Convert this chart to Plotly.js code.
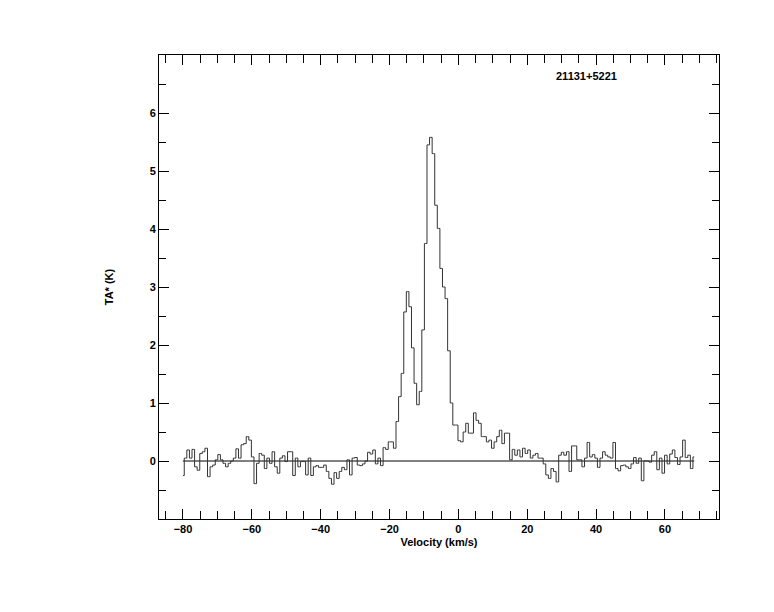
<!DOCTYPE html>
<html>
<head>
<meta charset="utf-8">
<script src="https://cdn.plot.ly/plotly-3.0.1.min.js"></script>
<style>html,body{margin:0;padding:0;background:#fff;}#chart{width:774px;height:612px;}</style>
</head>
<body>
<div id="chart"></div>
<script>
// Channel velocities (km/s)
const velocity = [
 -80, -79.25, -78.5, -77.75, -77, -76.25, -75.5, -74.75, -74, -73.25,
 -72.5, -71.75, -71, -70.25, -69.5, -68.75, -68, -67.25, -66.5, -65.75,
 -65, -64.25, -63.5, -62.75, -62, -61.25, -60.5, -59.75, -59, -58.25,
 -57.5, -56.75, -56, -55.25, -54.5, -53.75, -53, -52.25, -51.5, -50.75,
 -50, -49.25, -48.5, -47.75, -47, -46.25, -45.5, -44.75, -44, -43.25,
 -42.5, -41.75, -41, -40.25, -39.5, -38.75, -38, -37.25, -36.5, -35.75,
 -35, -34.25, -33.5, -32.75, -32, -31.25, -30.5, -29.75, -29, -28.25,
 -27.5, -26.75, -26, -25.25, -24.5, -23.75, -23, -22.25, -21.5, -20.75,
 -20, -19.25, -18.5, -17.75, -17, -16.25, -15.5, -14.75, -14, -13.25,
 -12.5, -11.75, -11, -10.25, -9.5, -8.75, -8, -7.25, -6.5, -5.75,
 -5, -4.25, -3.5, -2.75, -2, -1.25, -0.5, 0.25, 1, 1.75,
 2.5, 3.25, 4, 4.75, 5.5, 6.25, 7, 7.75, 8.5, 9.25,
 10, 10.75, 11.5, 12.25, 13, 13.75, 14.5, 15.25, 16, 16.75,
 17.5, 18.25, 19, 19.75, 20.5, 21.25, 22, 22.75, 23.5, 24.25,
 25, 25.75, 26.5, 27.25, 28, 28.75, 29.5, 30.25, 31, 31.75,
 32.5, 33.25, 34, 34.75, 35.5, 36.25, 37, 37.75, 38.5, 39.25,
 40, 40.75, 41.5, 42.25, 43, 43.75, 44.5, 45.25, 46, 46.75,
 47.5, 48.25, 49, 49.75, 50.5, 51.25, 52, 52.75, 53.5, 54.25,
 55, 55.75, 56.5, 57.25, 58, 58.75, 59.5, 60.25, 61, 61.75,
 62.5, 63.25, 64, 64.75, 65.5, 66.25, 67, 67.75, 68.5
];
// Antenna temperature TA* (K)
const ta = [
 -0.25, 0.05, 0.19, 0.05, 0.20, -0.10, -0.16, 0.13, 0.16, 0.22,
 -0.27, -0.10, -0.07, 0.02, 0.11, 0.02, -0.04, -0.10, -0.04, 0.00,
 0.05, 0.21, 0.05, 0.28, 0.30, 0.42, 0.36, 0.07, -0.39, -0.04,
 0.13, 0.10, -0.13, 0.05, -0.04, 0.16, -0.10, -0.21, 0.05, 0.09,
 -0.01, 0.16, 0.16, -0.25, 0.05, -0.10, -0.01, -0.01, -0.24, 0.05,
 -0.25, -0.10, -0.08, -0.11, -0.11, -0.07, -0.18, -0.30, -0.40, -0.20,
 -0.30, -0.18, -0.11, -0.15, 0.02, -0.24, 0.05, 0.06, -0.07, -0.08,
 -0.05, 0.00, 0.15, 0.12, 0.19, -0.05, 0.05, -0.08, 0.23, 0.20,
 0.33, 0.33, 0.22, 0.68, 1.11, 1.51, 2.57, 2.92, 2.66, 1.95,
 1.34, 0.97, 1.20, 2.26, 3.75, 5.45, 5.58, 5.30, 4.41, 4.01,
 3.32, 3.00, 2.80, 1.90, 1.00, 0.62, 0.62, 0.35, 0.33, 0.50,
 0.65, 0.48, 0.48, 0.83, 0.70, 0.65, 0.42, 0.42, 0.33, 0.36,
 0.22, 0.33, 0.42, 0.53, 0.30, 0.48, 0.48, 0.02, 0.20, 0.10,
 0.19, 0.07, 0.22, 0.13, 0.19, 0.05, 0.10, 0.13, 0.05, 0.05,
 -0.05, -0.24, -0.30, -0.13, -0.18, -0.36, 0.10, 0.15, 0.10, 0.16,
 -0.18, 0.26, 0.26, 0.02, 0.02, -0.10, 0.05, 0.32, 0.07, 0.11,
 0.05, -0.11, 0.05, 0.16, 0.10, 0.07, 0.05, 0.32, -0.13, -0.17,
 -0.08, -0.07, -0.10, -0.13, -0.05, 0.06, -0.04, 0.05, -0.34, 0.00,
 0.00, -0.02, 0.10, 0.16, -0.15, 0.05, -0.21, 0.10, -0.05, 0.12,
 0.19, 0.06, -0.06, 0.07, 0.36, 0.06, 0.10, -0.13, 0.07
];
const baselineX = [velocity[0], velocity[velocity.length - 1]];
const baselineY = [0, 0];
const xTickVals = [-80, -60, -40, -20, 0, 20, 40, 60];
const yTickVals = [0, 1, 2, 3, 4, 5, 6];
const sourceName = "21131+5221";

const fontFam = "'Liberation Sans', Arial, Helvetica, sans-serif";
const traces = [
  {x: baselineX, y: baselineY, type: 'scatter', mode: 'lines',
   line: {color: '#000', width: 1}, hoverinfo: 'skip'},
  {x: velocity, y: ta, type: 'scatter', mode: 'lines',
   line: {color: '#333', width: 1, shape: 'hvh'}}
];
const axisCommon = {
  showgrid: false, zeroline: false, showline: true, linecolor: '#000', linewidth: 1,
  mirror: 'ticks', ticks: 'inside', ticklen: 10, tickwidth: 1, tickcolor: '#000',
  tickfont: {family: fontFam, size: 11, color: '#000', weight: 'bold'}
};
const layout = {
  width: 774, height: 612,
  margin: {l: 159, r: 55, t: 55, b: 93},
  paper_bgcolor: '#fff', plot_bgcolor: '#fff',
  showlegend: false,
  font: {family: fontFam, color: '#000'},
  xaxis: Object.assign({}, axisCommon, {
    range: [-86.96, 75.69], tickvals: xTickVals,
    minor: {dtick: 5, tick0: 0, ticks: 'inside', ticklen: 8, tickcolor: '#000', tickwidth: 1},
    title: {text: '<b>Velocity (km/s)</b>', font: {family: fontFam, size: 11, color: '#000'}, standoff: 4}
  }),
  yaxis: Object.assign({}, axisCommon, {
    range: [-1, 7], tickvals: yTickVals,
    minor: {dtick: 0.5, tick0: 0, ticks: 'inside', ticklen: 7, tickcolor: '#000', tickwidth: 1},
    title: {text: '<b>TA* (K)</b>', font: {family: fontFam, size: 11, color: '#000'}, standoff: 33}
  }),
  annotations: [{
    text: '<b>' + sourceName + '</b>', xref: 'paper', yref: 'paper',
    x: 0.764, y: 0.955, xanchor: 'center', yanchor: 'middle', showarrow: false,
    font: {family: fontFam, size: 11, color: '#000'}
  }]
};
Plotly.newPlot('chart', traces, layout, {displayModeBar: false, staticPlot: true});
</script>
</body>
</html>
